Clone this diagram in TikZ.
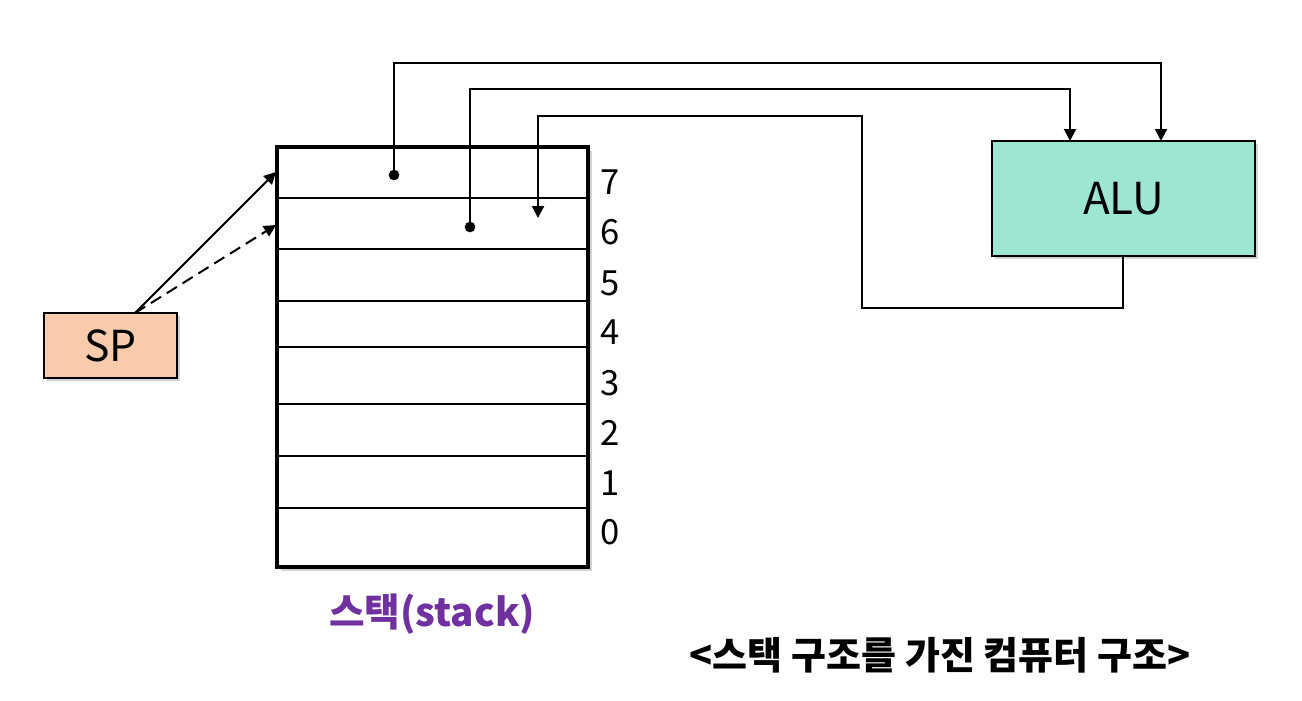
\documentclass[tikz,border=0pt]{standalone}
\usepackage{fontspec}
\setmainfont{Noto Sans CJK KR}
\usetikzlibrary{arrows.meta,shadows,calc}
\definecolor{alufill}{HTML}{9DE6D3}
\definecolor{spfill}{HTML}{F8CBAD}
\definecolor{stackpurple}{HTML}{7030A0}
\begin{document}
\begin{tikzpicture}[x=0.75pt,y=-0.75pt,
  box/.style={draw=black, line width=1.6pt, inner sep=0pt,
    drop shadow={opacity=0.35, shadow xshift=2.5pt, shadow yshift=-2.5pt}},
  conn/.style={line width=1.5pt},
  tip/.style={-{Triangle[length=9pt,width=9pt]}},
  dotc/.style={circle, fill=black, inner sep=0pt, minimum size=8pt},
  idx/.style={font=\fontsize{26}{30}\selectfont, anchor=west, inner sep=0pt},
  rowline/.style={line width=1pt}]
\useasboundingbox (0,0) rectangle (1302,700);

% stack
\node[draw=black, line width=3pt, fill=white, inner sep=0pt,
  minimum width={311*0.75pt}, minimum height={420*0.75pt},
  drop shadow={opacity=0.35, shadow xshift=3pt, shadow yshift=-3pt}]
  (stack) at (432.5,357) {};
\foreach \y in {198,249,301,347,404,456,508}
  \draw[rowline] (277,\y) -- (588,\y);

% indices
\foreach \n/\y in {7/182,6/232,5/283,4/332,3/383,2/433,1/483,0/532}
  \node[idx] (i\n) at (600,\y) {\n};

% SP
\node[box, fill=spfill, minimum width={133*0.75pt}, minimum height={65*0.75pt},
  font=\fontsize{32}{36}\selectfont] (sp) at (110.5,345.5) {SP};

% ALU
\node[box, fill=alufill, minimum width={263*0.75pt}, minimum height={115*0.75pt},
  font=\fontsize{33}{37}\selectfont] (alu) at (1123.5,198.5) {ALU};

% dots and targets
\node[dotc] (d7) at (394,175) {};
\node[dotc] (d6) at (470,227) {};
\coordinate (t6) at (538,218);
\coordinate (spt) at (135,313);
\coordinate (s7) at (276,172);
\coordinate (s6) at (276,225);

% SP arrows
\draw[conn, tip] (spt) -- (s7);
\draw[conn, tip, dash pattern=on 9pt off 5pt] (spt) -- (s6);

% stack -> ALU
\draw[conn, tip] (d7.center) -- (394,63) -- (1161,63) -- (1161,141);
\draw[conn, tip] (d6.center) -- (470,89) -- (1070,89) -- (1070,141);
% ALU -> stack
\draw[conn, tip] (1123,256) -- (1123,308) -- (862,308) -- (862,116) -- (538,116) -- (t6);

% labels
\node[font=\fontsize{29}{33}\selectfont\bfseries, text=stackpurple] (lbl) at (432,614) {스택(stack)};
\node[font=\fontsize{28.5}{33}\selectfont\bfseries] (cap) at (940,655) {<스택 구조를 가진 컴퓨터 구조>};
\end{tikzpicture}
\end{document}
